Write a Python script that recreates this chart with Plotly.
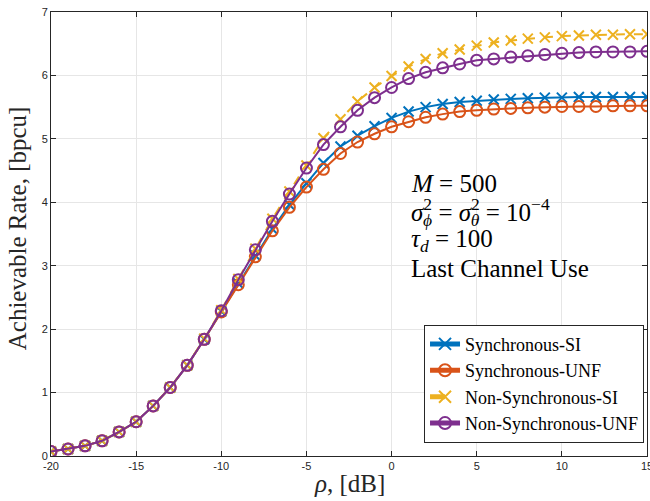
import plotly.graph_objects as go

rho_db = list(range(-20, 16))

sync_si = [0.07, 0.11, 0.16, 0.24, 0.38, 0.54, 0.79, 1.08, 1.43, 1.84, 2.28, 2.72, 3.16, 3.58, 3.96, 4.30, 4.62, 4.88, 5.05, 5.20, 5.33,
           5.43, 5.50, 5.55, 5.58, 5.60, 5.62, 5.63, 5.64, 5.65, 5.65, 5.66, 5.66, 5.66, 5.66, 5.66]
sync_unf = [0.07, 0.11, 0.16, 0.24, 0.38, 0.54, 0.79, 1.08, 1.43, 1.84, 2.27, 2.70, 3.14, 3.55, 3.92, 4.24, 4.52, 4.77, 4.95, 5.08, 5.19,
            5.27, 5.34, 5.39, 5.43, 5.45, 5.47, 5.48, 5.49, 5.50, 5.51, 5.51, 5.51, 5.52, 5.52, 5.52]
nonsync_si = [0.07, 0.11, 0.16, 0.24, 0.38, 0.54, 0.79, 1.08, 1.43, 1.85, 2.30, 2.79, 3.27, 3.74, 4.17, 4.58, 5.01, 5.31, 5.59, 5.81, 5.99,
              6.14, 6.26, 6.35, 6.41, 6.47, 6.52, 6.55, 6.58, 6.60, 6.62, 6.63, 6.64, 6.64, 6.65, 6.65]
nonsync_unf = [0.07, 0.11, 0.16, 0.24, 0.38, 0.54, 0.79, 1.08, 1.43, 1.84, 2.29, 2.78, 3.25, 3.70, 4.13, 4.54, 4.91, 5.19, 5.45, 5.65, 5.81,
               5.95, 6.05, 6.12, 6.18, 6.24, 6.26, 6.29, 6.31, 6.33, 6.35, 6.36, 6.37, 6.37, 6.37, 6.38]

x_ticks = [-20, -15, -10, -5, 0, 5, 10, 15]
x_tick_labels = ["-20", "-15", "-10", "-5", "0", "5", "10", "15"]
y_ticks = [0, 1, 2, 3, 4, 5, 6, 7]
y_tick_labels = ["0", "1", "2", "3", "4", "5", "6", "7"]

series = [
    ("Synchronous-SI", sync_si, "#0072BD", "x-thin-open", "solid"),
    ("Synchronous-UNF", sync_unf, "#D95319", "circle-open", "solid"),
    ("Non-Synchronous-SI", nonsync_si, "#EDB120", "x-thin-open", "dash"),
    ("Non-Synchronous-UNF", nonsync_unf, "#7E2F8E", "circle-open", "solid"),
]

SERIF = "Liberation Serif, Times New Roman, serif"

fig = go.Figure()
for name, ys, color, sym, dash in series:
    fig.add_trace(go.Scatter(
        x=rho_db, y=ys, name=name, mode="lines+markers",
        line=dict(color=color, width=2, dash=dash),
        marker=dict(symbol=sym, size=11 if "circle" in sym else 10,
                    color=color, line=dict(color=color, width=2)),
    ))

axis_common = dict(
    showgrid=True, gridcolor="#e6e6e6", gridwidth=1,
    showline=True, linecolor="#262626", linewidth=1, mirror="allticks",
    ticks="inside", ticklen=5, tickcolor="#262626", zeroline=False,
    automargin=False, ticklabeloverflow="allow",
    tickfont=dict(family="Liberation Sans, Arial", size=11, color="#262626"),
)

fig.update_layout(
    width=650, height=501,
    margin=dict(l=51, r=3, t=12, b=45),
    paper_bgcolor="white", plot_bgcolor="white",
    xaxis=dict(range=[-20, 15], tickvals=x_ticks, ticktext=x_tick_labels, **axis_common),
    yaxis=dict(range=[0, 7], tickvals=y_ticks, ticktext=y_tick_labels, **axis_common),
    legend=dict(x=0.995, y=0.03, xanchor="right", yanchor="bottom",
                bgcolor="white", bordercolor="#262626", borderwidth=1,
                font=dict(family=SERIF, size=18, color="#000000"),
                tracegroupgap=0, itemsizing="constant"),
    showlegend=True,
)

# axis titles
fig.add_annotation(x=0.5, y=-0.061, xref="paper", yref="paper", text="<i>ρ</i>, [dB]",
                   showarrow=False, xanchor="center", yanchor="middle",
                   font=dict(family=SERIF, size=25, color="#262626"))
fig.add_annotation(x=-0.057, y=0.513, xref="paper", yref="paper", text="Achievable Rate, [bpcu]",
                   showarrow=False, xanchor="center", yanchor="middle", textangle=-90,
                   font=dict(family=SERIF, size=25, color="#262626"))

ann_lines = [
    "<i>M</i> = 500",
    "<i>σ</i><sup><span style='letter-spacing:-9px'>2</span></sup><sub><i>ϕ</i></sub> = "
    "<i>σ</i><sup><span style='letter-spacing:-9px'>2</span></sup><sub><i>θ</i></sub> = 10<sup>−4</sup>",
    "<i>τ</i><sub><i>d</i></sub> = 100",
    "Last Channel Use",
]
ann_y = [4.29, 3.85, 3.39, 2.95]
for txt, yv in zip(ann_lines, ann_y):
    fig.add_annotation(x=1.05, y=yv, xref="x", yref="y", text=txt, showarrow=False,
                       xanchor="left", yanchor="middle",
                       font=dict(family=SERIF, size=25, color="#000000"))

fig.write_html("out.html", config={"displayModeBar": False},
               post_script="document.body.style.margin='0';document.body.style.overflow='hidden';")
